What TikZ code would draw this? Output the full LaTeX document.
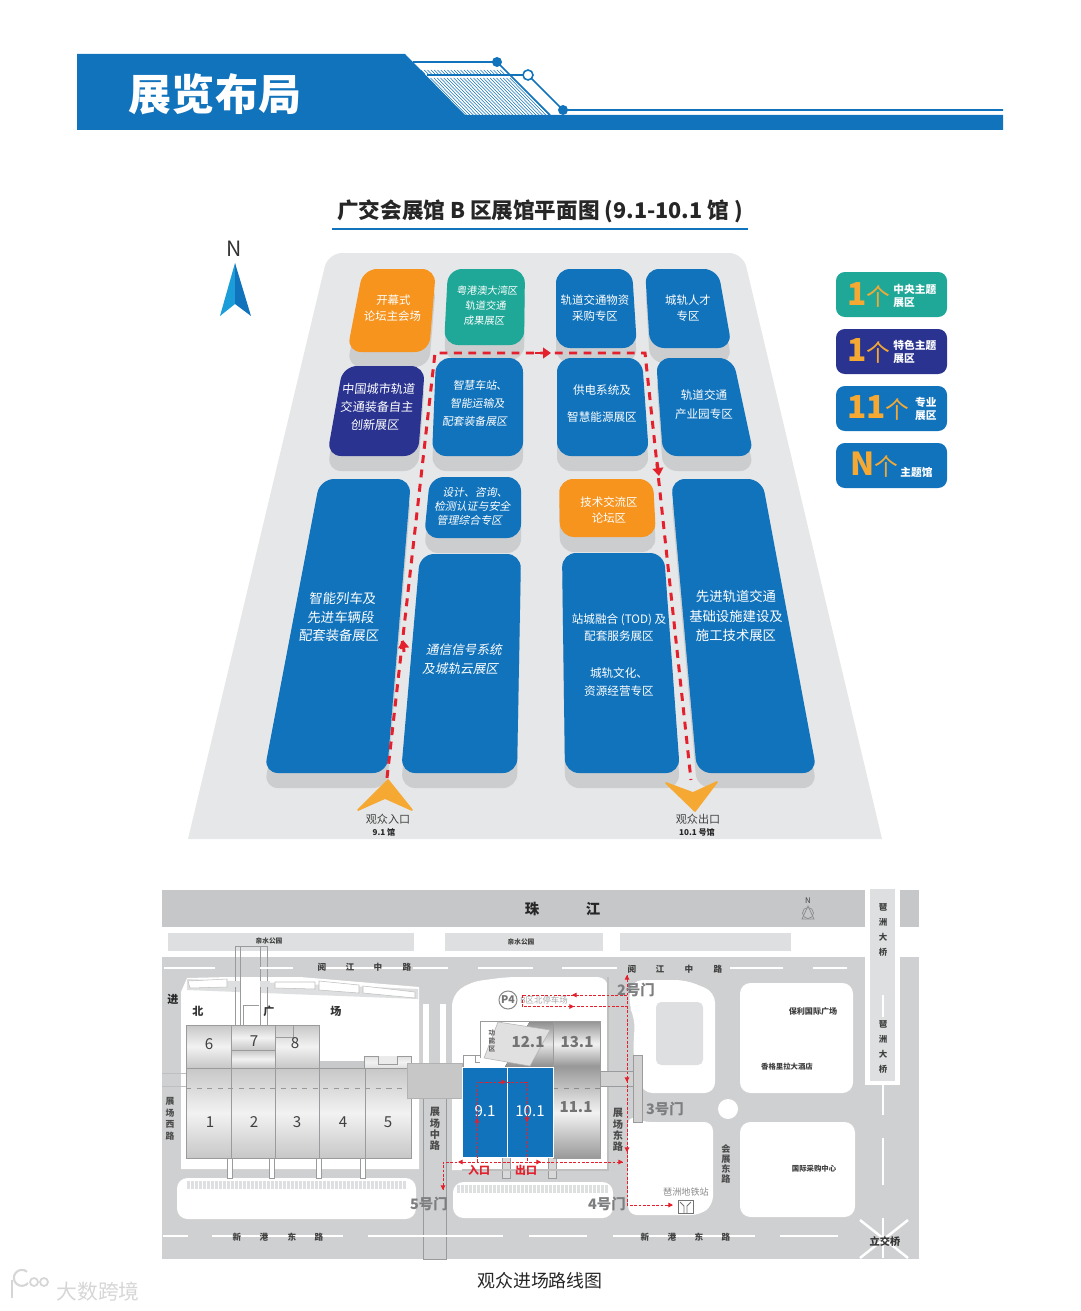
\documentclass[tikz,border=0pt]{standalone}
\usepackage{fontspec}
\setmainfont{Noto Sans CJK SC}
\usetikzlibrary{arrows.meta}
\definecolor{bandblue}{HTML}{1173BC}
\definecolor{zonenavy}{HTML}{2A3390}
\definecolor{zoneteal}{HTML}{1FA898}
\definecolor{zoneorange}{HTML}{F7941E}
\definecolor{legendorange}{HTML}{F5A933}
\definecolor{floorgray}{HTML}{E6E7E8}
\definecolor{shadowgray}{HTML}{CBCDCF}
\definecolor{roadgray}{HTML}{CFD0D1}
\definecolor{rivergray}{HTML}{C6C7C9}
\definecolor{parkgray}{HTML}{DEDFE0}
\definecolor{edgegray}{HTML}{9A9B9D}
\definecolor{routered}{HTML}{E3202B}
\definecolor{labelgray}{HTML}{7D7E80}
\tikzset{
  x=0.02cm, y=-0.02cm,
  zoneshadow/.style={fill=shadowgray, rounded corners=8pt},
  zonefill/.style={fill=#1, rounded corners=8pt},
  zonelabel/.style={text=white, align=center, inner sep=0pt, font=\fontsize{6.5}{8.8}\selectfont},
  bigroute/.style={draw=routered, line width=1.7pt, dash pattern=on 4.5pt off 3.7pt},
  bigarrow/.style={draw=routered, line width=1.7pt, -{Triangle[length=4.5pt,width=6pt]}},
  thinroute/.style={draw=routered, line width=0.55pt, dash pattern=on 1.6pt off 0.9pt},
  thinarrow/.style={draw=routered, line width=0.55pt, -{Triangle[length=2.6pt,width=2.6pt]}},
  legendbox/.style={fill=#1, rounded corners=5pt},
  legendnum/.style={text=legendorange, inner sep=0pt, font=\fontsize{18}{19}\selectfont\bfseries},
  legendtext/.style={text=white, align=left, inner sep=0pt, font=\fontsize{6.1}{7.4}\selectfont\bfseries},
  hall/.style={draw=edgegray, line width=0.5pt, top color=#1, bottom color=#1, middle color=black!5},
  hall/.default={black!22},
  hallnum/.style={text=black!75, inner sep=0pt, font=\fontsize{8.6}{9}\selectfont},
  hallgray/.style={text=black!55, inner sep=0pt, font=\fontsize{8.6}{9}\selectfont\bfseries},
  roadname/.style={text=black!75, inner sep=0pt, font=\fontsize{4.9}{5}\selectfont\bfseries},
  sidename/.style={text=black!70, align=center, inner sep=0pt, font=\fontsize{5.8}{6.4}\selectfont\bfseries},
  gatename/.style={text=labelgray, inner sep=0pt, font=\fontsize{8.2}{9}\selectfont\bfseries},
  plainwhite/.style={fill=white},
  dashwhite/.style={draw=white, line width=1.1pt},
  thinedge/.style={draw=edgegray, line width=0.4pt},
}
\newcommand{\zone}[5]{%
  \fill[zoneshadow, shift={(0,15)}] #2 -- #3 -- #4 -- #5 -- cycle;
  \fill[zonefill=#1] #2 -- #3 -- #4 -- #5 -- cycle;
}
\newcommand{\zonetext}[6][]{%
  \node[zonelabel, #1, cm={1,0,#5,1,(#3,#4)}, transform shape] (#2) at (0,0) {#6};
}
\newcommand{\legendnumber}[1]{#1{\fontsize{13.5}{14}\selectfont\mdseries 个}}
\begin{document}
\begin{tikzpicture}
\useasboundingbox (0,0) rectangle (1080,1311);

% header band
\fill[bandblue] (77,54) -- (405,54) -- (465,115) -- (1003,115) -- (1003,130) -- (77,130) -- cycle;
\foreach \i in {0,...,27}
  \draw[bandblue, line width=0.3pt] (424+\i*3.3,78) -- (460+\i*3.3,115);
\foreach \i in {0,...,24}
  \draw[bandblue, line width=0.3pt] (421+\i*3.3,70) -- (425+\i*3.3,74);
\coordinate (dotA) at (497,62);
\coordinate (dotB) at (528,75);
\coordinate (dotC) at (563,110);
\coordinate (hatchEnd) at (550,115);
\draw[bandblue, line width=0.9pt] (413,62) -- (dotA) -- (hatchEnd);
\draw[bandblue, line width=0.9pt] (427,75) -- (dotB) -- (dotC) -- (1003,110);
\fill[bandblue] (dotA) circle (5);
\fill[bandblue] (dotC) circle (5);
\draw[bandblue, fill=white, line width=0.9pt] (dotB) circle (5);
\node[text=white, inner sep=0pt, font=\fontsize{24.5}{25}\selectfont\bfseries] (bandtitle) at (215,94) {展览布局};

% floor plan title
\node[text=black!85, inner sep=0pt, font=\fontsize{12.3}{13}\selectfont\bfseries] (plantitle) at (540,211) {广交会展馆 B 区展馆平面图 (9.1-10.1 馆 )};
\draw[bandblue, line width=0.8pt] (332,229) -- (748,229);

% north arrow
\node[text=black!80, inner sep=0pt, font=\fontsize{12}{13}\selectfont] (northmark) at (234,249) {N};
\fill[cyan!70!bandblue] (235,263) -- (220,316) -- (235,304) -- cycle;
\fill[bandblue] (235,263) -- (251,316) -- (235,304) -- cycle;

% hall floor
\fill[floorgray, rounded corners=8pt] (188,839) [rounded corners=8pt] -- (328,253) -- (743,253) [sharp corners] -- (882,839) -- cycle;

% zones
\zone{zoneorange}{(363,269)}{(436,269)}{(429,352)}{(347,352)}
\zone{zoneteal}{(448,269)}{(525,269)}{(524,345)}{(444,345)}
\zone{bandblue}{(556,269)}{(632,269)}{(637,348)}{(556,348)}
\zone{bandblue}{(645,269)}{(718,269)}{(732,348)}{(650,348)}
\zone{zonenavy}{(343,366)}{(425,366)}{(418,456)}{(327,456)}
\zone{bandblue}{(436,358)}{(523,358)}{(523,456)}{(432,456)}
\zone{bandblue}{(557,358)}{(642,358)}{(649,456)}{(557,456)}
\zone{bandblue}{(656,358)}{(733,358)}{(754,456)}{(663,456)}
\zone{bandblue}{(320,479)}{(411,479)}{(387,773)}{(264,773)}
\zone{bandblue}{(430,477)}{(521,477)}{(521,538)}{(424,538)}
\zone{zoneorange}{(559,479)}{(653,479)}{(656,537)}{(560,537)}
\zone{bandblue}{(671,479)}{(762,479)}{(817,773)}{(697,773)}
\zone{bandblue}{(420,554)}{(521,554)}{(517,773)}{(401,773)}
\zone{bandblue}{(562,553)}{(664,553)}{(680,773)}{(565,773)}

\zonetext{opening}{393}{308}{.06}{开幕式\\论坛主会场}
\zonetext[font=\fontsize{5.8}{8.5}\selectfont]{bayarea}{486}{306}{.1}{粤港澳大湾区\\轨道交通\\成果展区}
\zonetext{supply}{595}{308}{0}{轨道交通物资\\采购专区}
\zonetext{talent}{688}{308}{0}{城轨人才\\专区}
\zonetext[font=\fontsize{6.9}{10.2}\selectfont]{chinarail}{377}{407}{.1}{中国城市轨道\\交通装备自主\\创新展区}
\zonetext[font=\fontsize{6.2}{10.2}\selectfont]{smart}{478}{403}{.15}{智慧车站、\\智能运输及\\配套装备展区}
\zonetext[font=\fontsize{6.6}{15.3}\selectfont]{power}{602}{404}{0}{供电系统及\\智慧能源展区}
\zonetext[font=\fontsize{6.6}{10.8}\selectfont]{parkzone}{704}{405}{0}{轨道交通\\产业园专区}
\zonetext[font=\fontsize{6.2}{8}\selectfont]{design}{473}{506}{.2}{设计、咨询、\\检测认证与安全\\管理综合专区}
\zonetext{forum}{609}{510}{0}{技术交流区\\论坛区}
\zonetext[font=\fontsize{7.6}{10.6}\selectfont]{trainzone}{341}{617}{.1}{智能列车及\\先进车辆段\\配套装备展区}
\zonetext[font=\fontsize{7.2}{10.6}\selectfont]{signal}{463}{659}{.2}{通信信号系统\\及城轨云展区}
\zonetext[font=\fontsize{6.6}{10.2}\selectfont]{station}{619}{655}{0}{站城融合 (TOD) 及\\配套服务展区\\[10.8pt]城轨文化、\\资源经营专区}
\zonetext[font=\fontsize{7.6}{11}\selectfont]{infra}{736}{616}{0}{先进轨道交通\\基础设施建设及\\施工技术展区}

% visitor route
\coordinate (routeIn) at (387,778);
\coordinate (routeA) at (435,353);
\coordinate (routeB) at (645,353);
\coordinate (routeOut) at (691,780);
\draw[bigroute] (routeIn) -- (routeA) -- (routeB) -- (routeOut);
\coordinate (upA) at (404,652);
\coordinate (upB) at (403,640);
\draw[bigarrow] (upA) -- (upB);
\coordinate (rightA) at (535,353);
\coordinate (rightB) at (551,353);
\draw[bigarrow] (rightA) -- (rightB);
\coordinate (downA) at (657,462);
\coordinate (downB) at (659,476);
\draw[bigarrow] (downA) -- (downB);

% entry and exit marks
\fill[legendorange, draw=legendorange, line width=1pt, line join=round] (388,780) -- (358,810) -- (385,798) -- (412,810) -- cycle;
\fill[legendorange, draw=legendorange, line width=1pt, line join=round] (666,783) -- (693,793) -- (717,782) -- (695,811) -- cycle;
\node[text=black!75, inner sep=0pt, font=\fontsize{6.3}{7}\selectfont] (entrylabel) at (388,819) {观众入口};
\node[text=black!85, inner sep=0pt, font=\fontsize{4.6}{5}\selectfont\bfseries] (entryhall) at (384,832) {9.1 馆};
\node[text=black!75, inner sep=0pt, font=\fontsize{6.3}{7}\selectfont] (exitlabel) at (698,819) {观众出口};
\node[text=black!85, inner sep=0pt, font=\fontsize{4.6}{5}\selectfont\bfseries] (exithall) at (697,832) {10.1 号馆};

% legend
\fill[legendbox=zoneteal] (836,272) rectangle (947,317);
\fill[legendbox=zonenavy] (836,329) rectangle (947,374);
\fill[legendbox=bandblue] (836,386) rectangle (947,431);
\fill[legendbox=bandblue] (836,443) rectangle (947,488);
\node[legendnum, anchor=west] (numA) at (847,295) {\legendnumber{1}};
\node[legendnum, anchor=west] (numB) at (847,351) {\legendnumber{1}};
\node[legendnum, anchor=west] (numC) at (847,408) {\legendnumber{11}};
\node[legendnum, anchor=west] (numD) at (850,465) {\legendnumber{N}};
\node[legendtext, anchor=west] (textA) at (893,296) {中央主题\\展区};
\node[legendtext, anchor=west] (textB) at (893,352) {特色主题\\展区};
\node[legendtext, align=right, anchor=east] (textC) at (937,409) {专业\\展区};
\node[legendtext, anchor=west] (textD) at (900,472) {主题馆};

% --- location map ---
\fill[rivergray] (162,890) rectangle (865,927);
\fill[rivergray] (900,890) rectangle (919,927);
\fill[parkgray] (168,933) rectangle (414,951);
\fill[parkgray] (445,933) rectangle (603,951);
\fill[parkgray] (620,933) rectangle (791,951);
\fill[roadgray] (162,957) rectangle (919,1259);

% bridge
\fill[white] (865,889) rectangle (900,1085);
\fill[parkgray] (870,889) rectangle (895,1081);
\draw[white, line width=1pt] (883,995) -- (883,1017);
\draw[dashwhite] (883,1085) -- (883,1115);
\draw[dashwhite] (883,1138) -- (883,1185);
\draw[dashwhite] (883,1218) -- (883,1258);
\draw[white, line width=1.4pt] (860,1220) -- (908,1258);
\draw[white, line width=1.4pt] (908,1220) -- (860,1258);

% white blocks
\fill[plainwhite] (181,1169) -- (181,992) -- (187,978) -- (230,977) -- (300,977) -- (419,987) -- (419,1169) -- cycle;
\fill[plainwhite, rounded corners=6pt] (177,1178) rectangle (416,1219);
\fill[parkgray] (187,979) -- (418,989) -- (418,999) -- (187,990) -- cycle;
\fill[plainwhite, draw=black!25, line width=0.3pt] (188,981) -- (227,979) -- (227,987) -- (190,988) -- cycle;
\fill[plainwhite, draw=black!25, line width=0.3pt] (275,982) -- (315,982) -- (315,989) -- (275,988) -- cycle;
\fill[plainwhite, draw=black!25, line width=0.3pt] (319,981) -- (359,985) -- (359,993) -- (319,990) -- cycle;
\fill[plainwhite, draw=black!25, line width=0.3pt] (363,986) -- (415,992) -- (415,998) -- (363,993) -- cycle;
\fill[plainwhite] (240,977) rectangle (260,1025);
\fill[plainwhite, rounded corners=6pt] (452,1170) -- (452,995) -- (470,982) -- (507,977) -- (608,977) [sharp corners] -- (608,1170) -- cycle;
\fill[plainwhite, rounded corners=6pt] (453,1182) rectangle (613,1218);
\fill[plainwhite, rounded corners=6pt] (632,980) -- (686,980) -- (715,992) -- (715,1093) -- (642,1093) -- (633,1055) -- (635,1018) -- (628,1004) -- cycle;
\fill[plainwhite, rounded corners=5pt] (628,1115) -- (642,1122) -- (713,1122) -- (713,1205) -- (700,1215) -- (628,1215) -- cycle;
\fill[parkgray, rounded corners=3pt] (656,1002) rectangle (703,1065);
\fill[white] (728,1109) circle (10);
\fill[plainwhite, rounded corners=6pt] (740,983) rectangle (853,1093);
\fill[plainwhite, rounded corners=6pt] (740,1122) rectangle (855,1217);

% plaza stripes
\foreach \i in {0,...,54}
  \fill[parkgray] (187+\i*4,1181) rectangle (189.6+\i*4,1189);
\foreach \i in {0,...,37}
  \fill[parkgray] (457+\i*4,1185) rectangle (459.6+\i*4,1193);

% upper walkways
\draw[thinedge] (235,1025) -- (235,946) -- (267,946) -- (267,1025);
\draw[thinedge] (240,1025) -- (240,946);
\draw[thinedge] (260,1025) -- (260,946);
\draw[thinedge] (243,1025) -- (243,1005) -- (259,1005);
\fill[parkgray] (231,981) rectangle (240,987);
\fill[parkgray] (260,981) rectangle (270,987);
\fill[white] (423,1004) rectangle (429,1063);
\fill[white] (440,1004) rectangle (446,1063);
\draw[black!25, line width=0.3pt] (162,1073) -- (186,1073);
\draw[black!25, line width=0.3pt] (162,1086) -- (186,1086);

% west halls
\foreach \x in {227,269,316,360}
  \draw[thinedge, fill=white] (\x,1158) rectangle (\x+5,1178);
\draw[hall] (186,1025) rectangle (231.5,1068);
\draw[hall] (231.5,1025) rectangle (275.5,1050);
\draw[hall] (231.5,1050) rectangle (275.5,1068);
\draw[hall] (275.5,1025) rectangle (319.5,1068);
\draw[thinedge] (231.5,1025) -- (293,1025) -- (293,1037) -- (275.5,1037);
\fill[parkgray!90!black] (319.5,1061) rectangle (365,1068);
\draw[hall=black!12] (364,1056) rectangle (411,1068);
\draw[thinedge, fill=white!92!black] (378,1056) -- (378,1064) -- (397,1064) -- (397,1056);
\draw[hall] (186,1068) rectangle (231.5,1158);
\draw[hall] (231.5,1068) rectangle (275.5,1158);
\draw[hall] (275.5,1068) rectangle (319.5,1158);
\draw[hall] (319.5,1068) rectangle (365,1158);
\draw[hall] (365,1068) rectangle (411,1158);
\draw[black!40, line width=0.5pt, dashed] (186,1088) -- (411,1088);
\node[hallnum] (hallA) at (210,1122) {1};
\node[hallnum] (hallB) at (254,1122) {2};
\node[hallnum] (hallC) at (297,1122) {3};
\node[hallnum] (hallD) at (343,1122) {4};
\node[hallnum] (hallE) at (388,1122) {5};
\node[hallnum] (hallF) at (209,1044) {6};
\node[hallnum] (hallG) at (254,1041) {7};
\node[hallnum] (hallH) at (295,1043) {8};

% central road and connector
\fill[roadgray, draw=edgegray, line width=0.4pt] (423,1098) rectangle (446,1259);
\fill[black!22, draw=black!30, line width=0.3pt] (407,1063) rectangle (462,1098);

% central halls
\foreach \x in {502,548}
  \draw[thinedge, fill=white!85!black] (\x,1157) rectangle (\x+8,1178);
\draw[black!25, line width=1.4pt] (608,977) -- (608,1170) -- (462,1170);
\draw[thinedge, fill=white] (463,1055) rectangle (482,1067);
\draw[thinedge] (475,1055) rectangle (481,1062);
\fill[plainwhite] (480,1021) rectangle (553,1067);
\fill[top color=black!45, bottom color=black!45, middle color=black!10] (530,1021) -- (553,1021) -- (553,1067) -- (505,1067) -- cycle;
\draw[thinedge] (480,1058) -- (480,1021) -- (553,1021);
\fill[white!88!black, draw=black!30, line width=0.3pt] (498,1022) -- (550,1030) -- (530,1066) -- (484,1058) -- cycle;
\draw[hall=black!42] (553,1021) rectangle (600,1067);
\draw[hall=black!40] (553,1067) rectangle (600,1158);
\draw[black!45, line width=0.5pt, dashed] (553,1088) -- (600,1088);
\fill[bandblue, draw=white, line width=0.5pt] (462,1067) rectangle (507,1157);
\fill[bandblue, draw=white, line width=0.5pt] (507,1067) rectangle (553,1157);
\node[text=white, inner sep=0pt, font=\fontsize{8.6}{9}\selectfont] (hallNine) at (485,1111) {9.1};
\node[text=white, inner sep=0pt, font=\fontsize{8.6}{9}\selectfont] (hallTen) at (530,1111) {10.1};
\node[hallgray] (hallTwelve) at (528,1042) {12.1};
\node[hallgray] (hallThirteen) at (577,1042) {13.1};
\node[hallgray] (hallEleven) at (576,1107) {11.1};
\node[text=black!60, align=center, inner sep=0pt, font=\fontsize{3.8}{4.4}\selectfont\bfseries] (funczone) at (492,1041) {功\\能\\区};

% east connector
\fill[black!18, draw=edgegray, line width=0.4pt] (600.5,1071) rectangle (633,1086);
\fill[black!18, draw=edgegray, line width=0.4pt] (633,1055) rectangle (642,1122);

% parking
\draw[black!45, fill=white, line width=0.6pt] (508,1000) circle (9);
\node[text=black!55, inner sep=0pt, font=\fontsize{6}{6}\selectfont\bfseries] (parkmark) at (508,1000) {P4};
\node[text=black!35, inner sep=0pt, font=\fontsize{4.8}{5}\selectfont] (parklabel) at (544,1000) {B区北停车场};

% thin routes
\coordinate (lotA) at (522,995);
\coordinate (lotB) at (522,1006.5);
\coordinate (lotC) at (627,995);
\coordinate (lotD) at (627,1006.5);
\coordinate (eastTop) at (627,975);
\coordinate (eastLow) at (627,1205);
\coordinate (metroEnd) at (673,1205);
\coordinate (southWest) at (443,1162);
\coordinate (gateFive) at (443,1190);
\coordinate (southEast) at (623,1162);
\coordinate (inA) at (477,1162);
\coordinate (inB) at (477,1082);
\coordinate (outB) at (527,1082);
\coordinate (outA) at (527,1162);
\draw[thinroute] (lotC) -- (lotA) -- (lotB) -- (lotD);
\draw[thinroute] (eastTop) -- (eastLow) -- (metroEnd);
\draw[thinroute] (gateFive) -- (southWest) -- (southEast);
\draw[thinroute] (inA) -- (inB) -- (outB) -- (outA);
\draw[thinarrow] (443,1184) -- (gateFive);
\draw[thinarrow] (627,981) -- (eastTop);
\draw[thinarrow] (667,1205) -- (metroEnd);
\draw[thinarrow] (617,1162) -- (southEast);
\draw[thinarrow] (578,995) -- (572,995);
\draw[thinarrow] (568,1006.5) -- (574,1006.5);
\draw[thinarrow] (627,1076) -- (627,1082);
\draw[thinarrow] (627,1146) -- (627,1152);
\draw[thinarrow] (500,1082) -- (506,1082);
\draw[thinarrow] (477,1124) -- (477,1118);
\draw[thinarrow] (527,1116) -- (527,1122);
\draw[thinarrow] (464,1162) -- (458,1162);
\draw[thinarrow] (535,1162) -- (541,1162);
\node[text=routered, inner sep=0pt, font=\fontsize{6.2}{7}\selectfont\bfseries] (inlabel) at (479,1170) {入口};
\node[text=routered, inner sep=0pt, font=\fontsize{6.2}{7}\selectfont\bfseries] (outlabel) at (526,1170) {出口};

% road marks
\foreach \a/\b in {164/215,260/293,325/405,413/448,478/533,562/617,730/783,813/847}
  \draw[dashwhite] (\a,968) -- (\b,968);
\foreach \a/\b in {163/188,212/343,368/503,529/587,613/755,780/838}
  \draw[dashwhite] (\a,1236) -- (\b,1236);

% road and place names
\node[text=black!85, inner sep=0pt, font=\fontsize{8.2}{9}\selectfont\bfseries] (riverA) at (532,909) {珠};
\node[text=black!85, inner sep=0pt, font=\fontsize{8.2}{9}\selectfont\bfseries] (riverB) at (593,909) {江};
\node[roadname, font=\fontsize{3.8}{4}\selectfont\bfseries] (parkA) at (269,941) {亲水公园};
\node[roadname, font=\fontsize{3.8}{4}\selectfont\bfseries] (parkB) at (521,942) {亲水公园};
\node[roadname] (yueA) at (322,967) {阅};
\node[roadname] (yueB) at (350,967) {江};
\node[roadname] (yueC) at (378,967) {中};
\node[roadname] (yueD) at (407,967) {路};
\node[roadname] (yueE) at (632,969) {阅};
\node[roadname] (yueF) at (660,969) {江};
\node[roadname] (yueG) at (689,969) {中};
\node[roadname] (yueH) at (718,969) {路};
\node[roadname] (xinA) at (237,1237) {新};
\node[roadname] (xinB) at (264,1237) {港};
\node[roadname] (xinC) at (292,1237) {东};
\node[roadname] (xinD) at (319,1237) {路};
\node[roadname] (xinE) at (645,1237) {新};
\node[roadname] (xinF) at (672,1237) {港};
\node[roadname] (xinG) at (699,1237) {东};
\node[roadname] (xinH) at (726,1237) {路};
\node[text=black!85, inner sep=0pt, font=\fontsize{6.3}{7}\selectfont\bfseries] (northA) at (173,999) {进};
\node[text=black!80, inner sep=0pt, font=\fontsize{6.3}{7}\selectfont\bfseries] (northB) at (198,1011) {北};
\node[text=black!80, inner sep=0pt, font=\fontsize{6.3}{7}\selectfont\bfseries] (northC) at (269,1011) {广};
\node[text=black!80, inner sep=0pt, font=\fontsize{6.3}{7}\selectfont\bfseries] (northD) at (336,1011) {场};
\node[sidename, font=\fontsize{5}{6.6}\selectfont\bfseries] (westroad) at (170,1119) {展\\场\\西\\路};
\node[sidename] (midroad) at (435,1129) {展\\场\\中\\路};
\node[sidename] (eastroad) at (618,1130) {展\\场\\东\\路};
\node[sidename, font=\fontsize{5.2}{5.8}\selectfont\bfseries] (expoeast) at (726,1164) {会\\展\\东\\路};
\node[gatename] (gateTwo) at (636,990) {2号门};
\node[gatename] (gateThree) at (665,1109) {3号门};
\node[gatename] (gateFour) at (607,1204) {4号门};
\node[gatename] (gateFiveName) at (429,1204) {5号门};
\node[roadname, font=\fontsize{4.6}{5}\selectfont\bfseries] (poly) at (813,1011) {保利国际广场};
\node[roadname, font=\fontsize{4.2}{5}\selectfont\bfseries] (hotel) at (787,1067) {香格里拉大酒店};
\node[roadname, font=\fontsize{4.2}{5}\selectfont\bfseries] (trade) at (814,1169) {国际采购中心};
\node[text=black!80, inner sep=0pt, font=\fontsize{5.8}{6}\selectfont\bfseries] (flyover) at (885,1242) {立交桥};
\node[text=black!45, inner sep=0pt, font=\fontsize{5.2}{6}\selectfont] (metroname) at (686,1192) {琶洲地铁站};
\draw[black!55, fill=white, line width=0.4pt] (678,1200) rectangle (693,1213);
\draw[black!55, line width=0.5pt] (680,1202) -- (684,1206) -- (684,1213);
\draw[black!55, line width=0.5pt] (691,1202) -- (687,1206) -- (687,1213);
\node[roadname, align=center, font=\fontsize{4.8}{8.7}\selectfont\bfseries] (bridgeA) at (883,930) {琶\\洲\\大\\桥};
\node[roadname, align=center, font=\fontsize{4.8}{8.7}\selectfont\bfseries] (bridgeB) at (883,1047) {琶\\洲\\大\\桥};
\node[text=black!75, inner sep=0pt, font=\fontsize{4.4}{5}\selectfont] (mapnorth) at (808,901) {N};
\draw[black!45, line width=0.4pt] (808,913) circle (5.5);
\draw[black!45, line width=0.4pt] (808,906) -- (802,919) -- (814,919) -- cycle;

% caption and watermark
\node[text=black!85, inner sep=0pt, font=\fontsize{10.2}{11}\selectfont] (mapcaption) at (540,1281) {观众进场路线图};
\node[text=black!16, inner sep=0pt, font=\fontsize{11.8}{12}\selectfont] (markname) at (98,1292) {大数跨境};
\draw[black!16, line width=1.2pt] (12,1280) -- (12,1298);
\draw[black!16, line width=1.2pt] (28,1283) arc[start angle=40, end angle=310, radius=8];
\draw[black!16, line width=1pt] (34,1282) circle (4);
\draw[black!16, line width=1pt] (44,1282) circle (4);
\end{tikzpicture}
\end{document}
